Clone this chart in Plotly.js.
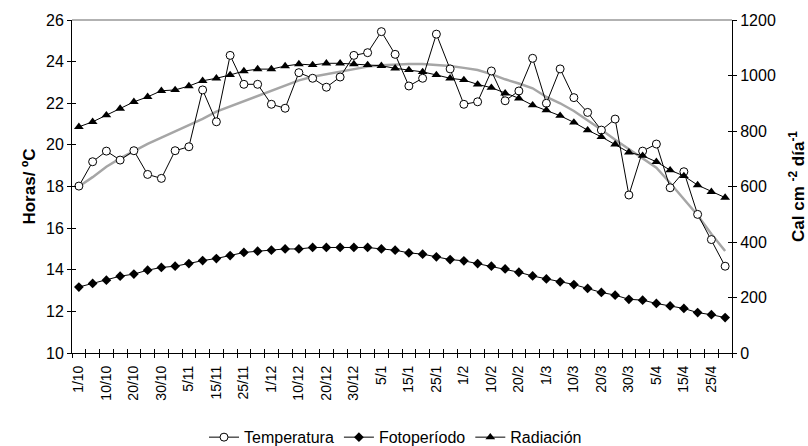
<!DOCTYPE html>
<html>
<head>
<meta charset="utf-8">
<script src="https://cdn.plot.ly/plotly-3.0.1.min.js"></script>
<style>
  html, body { margin: 0; padding: 0; background: #fff; }
  #grafico { width: 808px; height: 446px; }
</style>
</head>
<body>
<div id="grafico"></div>
<script>
// Etiquetas del eje X (una cada dos fechas)
const etiquetas = ['1/10','10/10','20/10','30/10','5/11','15/11','25/11','1/12','10/12','20/12','30/12','5/1',
                   '15/1','25/1','1/2','10/2','20/2','1/3','10/3','20/3','30/3','5/4','15/4','25/4'];

// Temperatura media (ºC)
const temperatura = [18.02,19.19,19.70,19.27,19.72,18.58,18.39,19.72,19.91,22.64,
                     21.11,24.30,22.91,22.91,21.95,21.76,23.47,23.20,22.77,23.26,
                     24.30,24.43,25.44,24.35,22.83,23.20,25.32,23.65,21.95,22.07,
                     23.55,22.12,22.59,24.16,22.00,23.65,22.27,21.56,20.71,21.24,
                     17.59,19.70,20.04,17.94,18.71,16.66,15.45,14.17];

// Tendencia polinómica de la temperatura
const tendencia = [18.00,18.45,18.95,19.35,19.70,20.05,20.35,20.65,20.95,21.25,
                   21.60,21.85,22.10,22.38,22.60,22.85,23.10,23.27,23.40,23.50,
                   23.65,23.76,23.83,23.87,23.88,23.88,23.85,23.79,23.70,23.60,
                   23.40,23.15,22.95,22.72,22.30,22.00,21.63,21.20,20.73,20.25,
                   19.80,19.35,18.90,18.17,17.40,16.62,15.72,14.90];

// Fotoperíodo (horas)
const fotoperiodo = [13.17,13.34,13.50,13.69,13.79,13.98,14.11,14.17,14.30,14.44,
                     14.54,14.68,14.83,14.89,14.94,15.00,15.00,15.07,15.07,15.07,
                     15.07,15.07,15.00,14.94,14.81,14.75,14.62,14.49,14.43,14.30,
                     14.17,14.04,13.88,13.70,13.56,13.42,13.29,13.10,12.91,12.78,
                     12.58,12.54,12.38,12.26,12.14,11.94,11.84,11.70];

// Radiación (cal cm-2 día-1)
const radiacion = [815,833,857,881,905,923,945,948,962,981,
                   990,1002,1016,1023,1023,1034,1041,1038,1044,1044,
                   1041,1038,1035,1026,1020,1013,1002,990,984,968,
                   956,936,918,893,875,855,831,803,779,752,
                   723,711,689,659,638,605,581,560];

const n = temperatura.length;
const idx = temperatura.map((_, i) => i);
const posEtiquetas = etiquetas.map((_, k) => 2 * k);
const limites = Array.from({length: n + 1}, (_, i) => i - 0.5);

// Trazas sin datos que sólo activan los ejes superpuestos de las marcas cruzadas
const auxiliar = (xa, ya) => ({x: [null], y: [null], xaxis: xa, yaxis: ya, type: 'scatter',
                               mode: 'lines', showlegend: false, hoverinfo: 'skip'});

const traces = [
  auxiliar('x2', 'y'),
  auxiliar('x3', 'y'),
  auxiliar('x', 'y3'),
  auxiliar('x', 'y4'),
  {
    x: idx, y: tendencia, type: 'scatter', mode: 'lines',
    line: {color: '#a6a6a6', width: 2.5}, showlegend: false, hoverinfo: 'skip'
  },
  {
    name: 'Temperatura', x: idx, y: temperatura, type: 'scatter', mode: 'lines+markers',
    line: {color: '#000', width: 1},
    marker: {symbol: 'circle', size: 8, color: '#fff', line: {color: '#000', width: 1}}
  },
  {
    name: 'Fotoperíodo', x: idx, y: fotoperiodo, type: 'scatter', mode: 'lines+markers',
    line: {color: '#000', width: 1},
    marker: {symbol: 'diamond', size: 7.5, color: '#000'}
  },
  {
    name: 'Radiación', x: idx, y: radiacion, yaxis: 'y2', type: 'scatter', mode: 'lines+markers',
    line: {color: '#000', width: 1},
    marker: {symbol: 'triangle-up', size: 8.5, color: '#000'}
  }
];

const fuente = 'Liberation Sans, Arial, sans-serif';
const base = {showgrid: false, zeroline: false, fixedrange: true};
const marcas = (extra) => Object.assign({}, base, {
  showticklabels: false, showline: false, ticklen: 4, tickcolor: '#000', tickwidth: 1
}, extra);

const layout = {
  width: 808, height: 446,
  margin: {l: 72, r: 75.5, t: 20, b: 93.3, pad: 0, autoexpand: false},
  paper_bgcolor: '#fff', plot_bgcolor: '#fff',
  font: {family: fuente, size: 16, color: '#000'},
  showlegend: true,
  legend: {orientation: 'h', x: 0.2, xanchor: 'left', y: -0.253, yanchor: 'middle',
           font: {size: 16}, bgcolor: 'rgba(0,0,0,0)', tracegroupgap: 0, borderwidth: 0},
  xaxis: Object.assign({}, base, {
    range: [-0.5, n - 0.5], tickmode: 'array', tickvals: posEtiquetas, ticktext: etiquetas,
    tickangle: -90, ticks: 'outside', ticklen: 6, tickcolor: 'rgba(0,0,0,0)',
    showline: true, linecolor: '#000', linewidth: 1, tickfont: {size: 14}
  }),
  xaxis2: marcas({overlaying: 'x', anchor: 'y', range: [-0.5, n - 0.5],
                  tickmode: 'array', tickvals: limites, ticks: 'outside'}),
  xaxis3: marcas({overlaying: 'x', anchor: 'y', range: [-0.5, n - 0.5],
                  tickmode: 'array', tickvals: limites, ticks: 'inside'}),
  yaxis: Object.assign({}, base, {
    range: [10, 26], dtick: 2, ticks: 'outside', ticklen: 4, tickcolor: '#000',
    showline: true, linecolor: '#000', linewidth: 1, tickfont: {size: 16},
    title: {text: '<b>Horas/ ºC</b>', font: {size: 17}, standoff: 6}
  }),
  yaxis2: Object.assign({}, base, {
    overlaying: 'y', side: 'right', anchor: 'x', range: [0, 1200], dtick: 200,
    ticks: 'outside', ticklen: 4, tickcolor: '#000', tickfont: {size: 16},
    showline: true, linecolor: '#000', linewidth: 1,
    title: {text: '<b>Cal cm <sup>-2</sup> día<sup>-1</sup></b>', font: {size: 17}, standoff: 22}
  }),
  yaxis3: marcas({overlaying: 'y', side: 'left', anchor: 'x', range: [10, 26], dtick: 2,
                  ticks: 'inside'}),
  yaxis4: marcas({overlaying: 'y', side: 'right', anchor: 'x', range: [0, 1200], dtick: 200,
                  ticks: 'inside'}),
  shapes: [
    {type: 'line', xref: 'paper', yref: 'paper', x0: 0, x1: 1, y0: 1, y1: 1,
     line: {color: '#999', width: 1.5}}
  ]
};

Plotly.newPlot('grafico', traces, layout, {displayModeBar: false, staticPlot: true});
</script>
</body>
</html>
